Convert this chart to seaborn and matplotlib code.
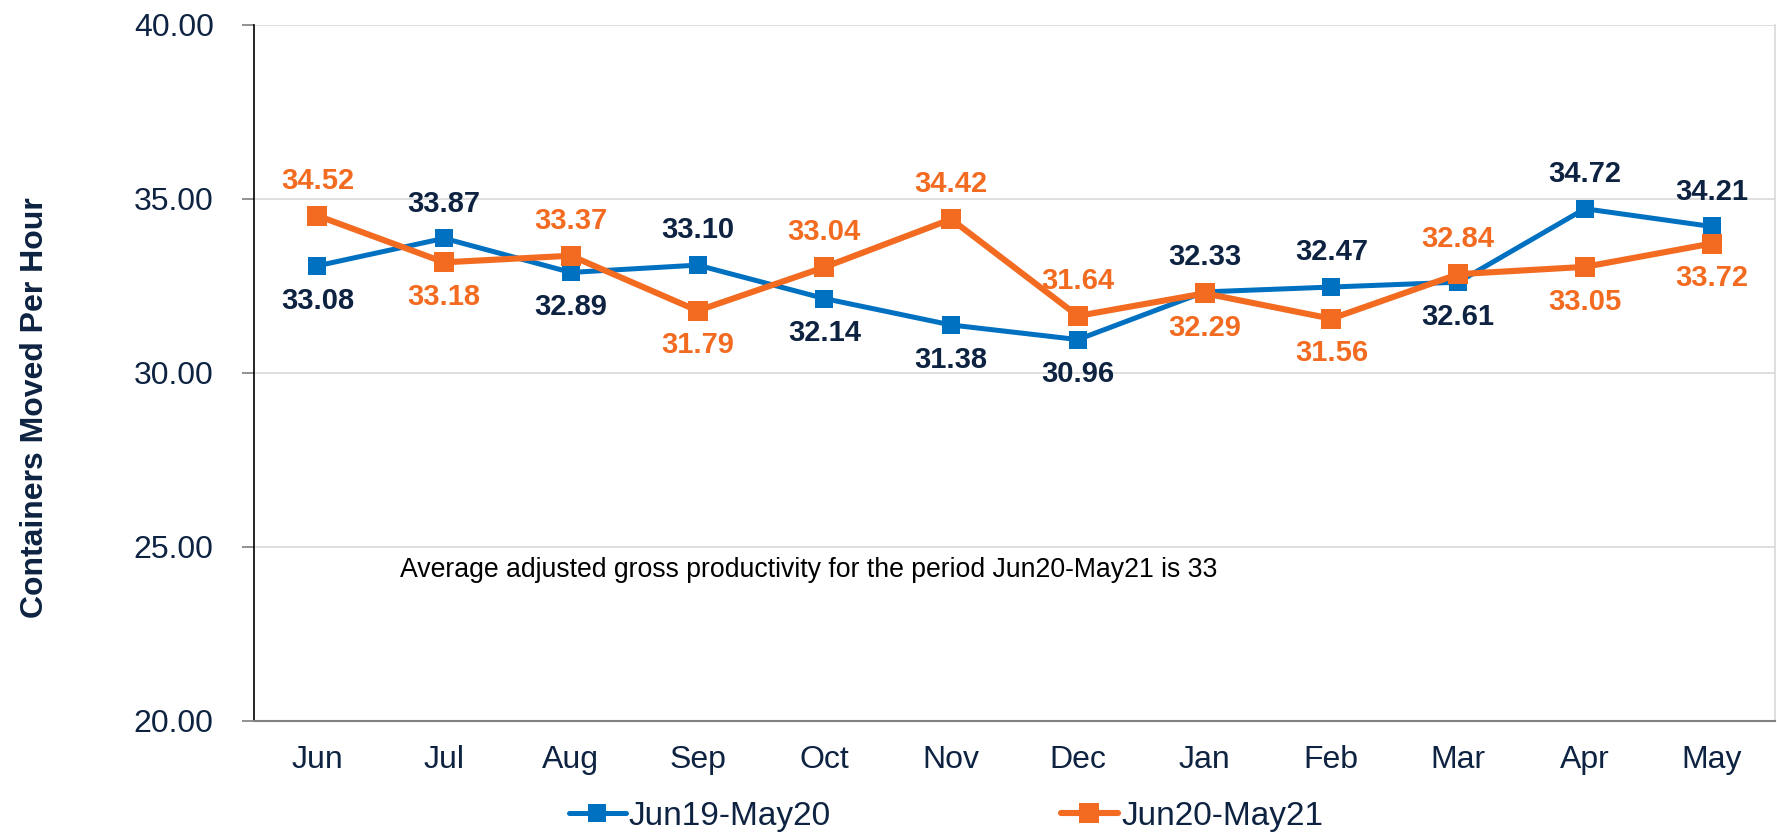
import matplotlib
matplotlib.use("Agg")
import matplotlib.pyplot as plt
import seaborn as sns
import pandas as pd
import numpy as np
from matplotlib.lines import Line2D

months = ["Jun", "Jul", "Aug", "Sep", "Oct", "Nov", "Dec", "Jan", "Feb", "Mar", "Apr", "May"]
series_a_name = "Jun19-May20"
series_b_name = "Jun20-May21"
series_a = [33.08, 33.87, 32.89, 33.10, 32.14, 31.38, 30.96, 32.33, 32.47, 32.61, 34.72, 34.21]
series_b = [34.52, 33.18, 33.37, 31.79, 33.04, 34.42, 31.64, 32.29, 31.56, 32.84, 33.05, 33.72]
# label placement: +1 above, -1 below
pos_a = [-1, 1, -1, 1, -1, -1, -1, 1, 1, -1, 1, 1]
pos_b = [1, -1, 1, -1, 1, 1, 1, -1, -1, 1, -1, -1]
yticks = [20, 25, 30, 35, 40]
note = "Average adjusted gross productivity for the period Jun20-May21 is 33"
ylabel = "Containers Moved Per Hour"

BLUE = "#0070C0"
ORANGE = "#F26B21"
NAVY = "#0D2341"

sns.set_theme(style="white")
plt.rcParams["font.family"] = ["Liberation Sans", "DejaVu Sans"]

fig = plt.figure(figsize=(17.77, 8.35), dpi=100)
ax = fig.add_axes([254 / 1777, 1 - 721 / 835, 1521 / 1777, 696 / 835])

x = np.arange(len(months))
df_a = pd.DataFrame({"x": x, "y": series_a})
df_b = pd.DataFrame({"x": x, "y": series_b})

sns.lineplot(data=df_a, x="x", y="y", ax=ax, color=BLUE, lw=3.6, marker="s",
             markersize=12.5, markeredgewidth=0, zorder=3)
sns.lineplot(data=df_b, x="x", y="y", ax=ax, color=ORANGE, lw=4.4, marker="s",
             markersize=14.5, markeredgewidth=0, zorder=4)

for xi, v, p in zip(x, series_a, pos_a):
    ax.annotate(f"{v:.2f}", (xi, v), xytext=(0, 25 * p), textcoords="offset points",
                ha="center", va="center", fontsize=21, fontweight="bold", color=NAVY, zorder=5)
for xi, v, p in zip(x, series_b, pos_b):
    ax.annotate(f"{v:.2f}", (xi, v), xytext=(0, 25 * p), textcoords="offset points",
                ha="center", va="center", fontsize=21, fontweight="bold", color=ORANGE, zorder=5)

ax.set_xlim(-0.5, len(months) - 0.5)
ax.set_ylim(20, 40)
ax.set_yticks(yticks)
ax.set_yticklabels([f"{t:.2f}" for t in yticks], fontsize=23, color=NAVY)
ax.set_xticks(x)
ax.set_xticklabels(months, fontsize=23, color=NAVY)
ax.set_xticks(np.arange(-0.5, len(months)), minor=True)
ax.tick_params(axis="x", which="major", length=0, pad=17)
ax.tick_params(axis="x", which="minor", length=9, width=1.2, color="#7f7f7f", direction="out")
ax.tick_params(axis="y", which="major", length=9, width=1.2, color="#7f7f7f", direction="out", pad=20, left=True)
ax.grid(axis="y", color="#d9d9d9", lw=1.2)
ax.set_axisbelow(True)
ax.set_xlabel("")
ax.set_ylabel("")

ax.spines["top"].set_visible(False)
ax.spines["right"].set_color("#d9d9d9")
ax.spines["right"].set_linewidth(1.2)
ax.spines["left"].set_color("black")
ax.spines["left"].set_linewidth(1.2)
ax.spines["bottom"].set_color("#7f7f7f")
ax.spines["bottom"].set_linewidth(1.5)

ax.text((400 - 254) / 1521, (721 - 570) / 696, note, transform=ax.transAxes,
        fontsize=19.2, color="black", va="center", ha="left")

fig.text(35 / 1777, 1 - 408 / 835, ylabel, rotation=90, fontsize=23, fontweight="bold",
         color=NAVY, ha="center", va="center")

handles = [
    Line2D([], [], color=BLUE, lw=3.6, marker="s", markersize=12.5, markeredgewidth=0),
    Line2D([], [], color=ORANGE, lw=4.4, marker="s", markersize=14.5, markeredgewidth=0),
]
leg = fig.legend(handles, [series_a_name, series_b_name], loc="center",
                 bbox_to_anchor=(946 / 1777, 1 - 816 / 835), ncol=2, frameon=False,
                 prop={"family": ["Liberation Sans Narrow", "Liberation Sans"], "size": 24},
                 handlelength=1.7, handletextpad=0.1, columnspacing=6.9)
for t in leg.get_texts():
    t.set_color(NAVY)

fig.savefig("out.png", dpi=100)
